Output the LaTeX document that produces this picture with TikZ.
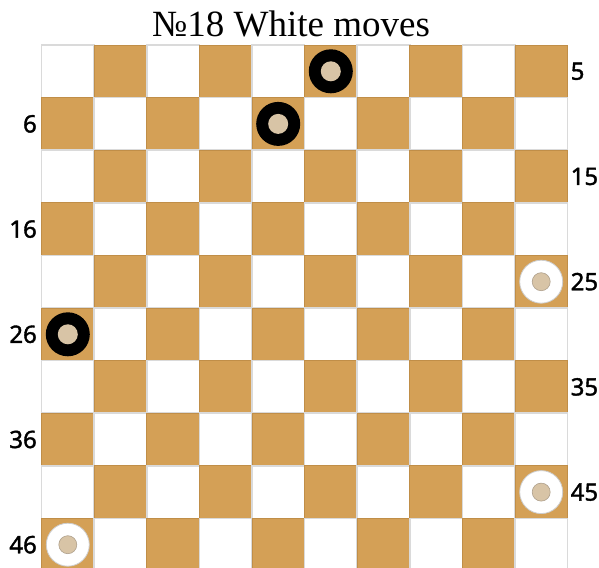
\documentclass[tikz,border=0pt]{standalone}
\usepackage{fontspec}
\setmainfont{Liberation Serif}
\newfontfamily\labelfont[FakeBold=1.6]{Noto Sans}
\usetikzlibrary{positioning}
\definecolor{boardTan}{RGB}{212,160,86}
\definecolor{boardTanDark}{RGB}{192,142,72}
\definecolor{boardLine}{RGB}{218,218,218}
\definecolor{pieceCore}{RGB}{216,196,166}
\definecolor{pieceRim}{RGB}{205,205,205}
\definecolor{coreRim}{RGB}{175,160,140}

\begin{document}
\begin{tikzpicture}[x=1pt,y=-1pt,
  lightsq/.style={fill=white, draw=boardLine, line width=1.6pt},
  darksq/.style={fill=boardTan, draw=boardTanDark, line width=0.8pt},
  blackman/.style={circle, fill=black, minimum size=44pt, inner sep=0pt},
  whiteman/.style={circle, fill=white, draw=pieceRim, line width=0.8pt, minimum size=43pt, inner sep=0pt},
  blackcore/.style={circle, fill=pieceCore, minimum size=20pt, inner sep=0pt},
  whitecore/.style={circle, fill=pieceCore, draw=coreRim, line width=0.6pt, minimum size=18pt, inner sep=0pt},
  sqlabel/.style={font=\labelfont\fontsize{24}{24}\selectfont, inner sep=0pt}]
\useasboundingbox (0,0) rectangle (599,567);
\clip (0,0) rectangle (599,567);

% title
\node[anchor=base, font=\fontsize{37}{37}\selectfont, inner sep=0pt] (title) at (291,37) {№18 White moves};

% board
\foreach \r in {1,...,10}
  \foreach \c in {1,...,10}
  {
    \pgfmathtruncatemacro\isdark{mod(\r+\c,2)}
    \ifnum\isdark=1
      \draw[darksq] ({41.5+52.6*(\c-1)},{45+52.6*(\r-1)}) rectangle +(52.6,52.6);
    \else
      \draw[lightsq] ({41.5+52.6*(\c-1)},{45+52.6*(\r-1)}) rectangle +(52.6,52.6);
    \fi
  }

% square numbers
\foreach \r/\n in {1/5,3/15,5/25,7/35,9/45}
  \node[sqlabel, anchor=west] (num\n) at (570.5,{45+52.6*(\r-0.5)}) {\n};
\foreach \r/\n in {2/6,4/16,6/26,8/36,10/46}
  \node[sqlabel, anchor=east] (num\n) at (37,{45+52.6*(\r-0.5)}) {\n};

% black men
\foreach \c/\r/\n in {6/1/3,5/2/8,1/6/26}
{
  \node[blackman] (b\n) at ({41.5+52.6*(\c-0.5)},{45+52.6*(\r-0.5)}) {};
  \node[blackcore] (b\n core) at (b\n) {};
}
% white men
\foreach \c/\r/\n in {10/5/25,10/9/45,1/10/46}
{
  \node[whiteman] (w\n) at ({41.5+52.6*(\c-0.5)},{45+52.6*(\r-0.5)}) {};
  \node[whitecore] (w\n core) at (w\n) {};
}
\end{tikzpicture}
\end{document}
